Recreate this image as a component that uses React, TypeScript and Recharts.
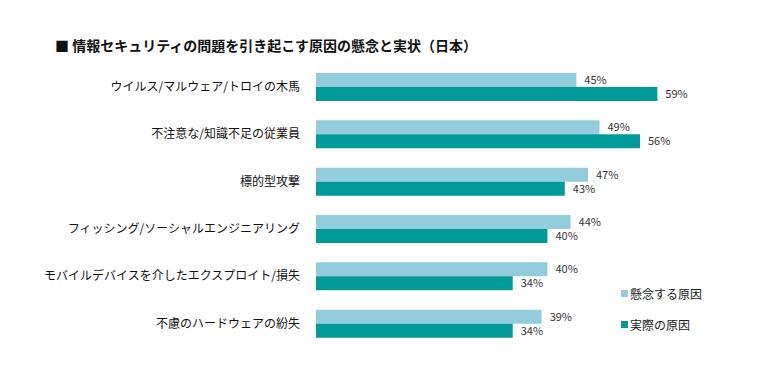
import { Bar, BarChart, LabelList, XAxis, YAxis } from "recharts";

const categories = [
  "ウイルス/マルウェア/トロイの木馬",
  "不注意な/知識不足の従業員",
  "標的型攻撃",
  "フィッシング/ソーシャルエンジニアリング",
  "モバイルデバイスを介したエクスプロイト/損失",
  "不慮のハードウェアの紛失",
];
const concernValues = [45, 49, 47, 44, 40, 39];
const actualValues = [59, 56, 43, 40, 34, 34];

const series = [
  { key: "concern", name: "懸念する原因", color: "#93cddd" },
  { key: "actual", name: "実際の原因", color: "#009a98" },
];

const data = categories.map((name, i) => ({
  name,
  concern: concernValues[i],
  actual: actualValues[i],
}));

const FONT = '"Noto Sans CJK JP", "Noto Sans", sans-serif';

export default function App() {
  return (
    <div
      style={{
        position: "absolute",
        left: 0,
        top: 0,
        width: 775,
        height: 366,
        background: "#fff",
        fontFamily: FONT,
      }}
    >
      <div
        style={{
          position: "absolute",
          left: 55,
          top: 35,
          fontSize: 14,
          fontWeight: 700,
          color: "#111",
          whiteSpace: "nowrap",
        }}
      >
        ■ 情報セキュリティの問題を引き起こす原因の懸念と実状（日本）
      </div>
      <BarChart
        width={775}
        height={366}
        data={data}
        layout="vertical"
        margin={{ top: 63, right: 54, bottom: 19, left: 0 }}
        barGap={0}
        barSize={14}
      >
        <XAxis type="number" domain={[0, 70]} hide />
        <YAxis
          type="category"
          dataKey="name"
          width={316}
          axisLine={false}
          tickLine={false}
          tickSize={0}
          tickMargin={16}
          interval={0}
          tick={{ fill: "#111", fontSize: 12, fontFamily: FONT }}
        />
        {series.map((s) => (
          <Bar
            key={s.key}
            dataKey={s.key}
            name={s.name}
            fill={s.color}
            isAnimationActive={false}
          >
            <LabelList
              dataKey={s.key}
              position="right"
              offset={8}
              formatter={(v: number) => `${v}%`}
              style={{ fill: "#333", fontSize: 11, fontFamily: FONT }}
            />
          </Bar>
        ))}
      </BarChart>
      <div
        style={{
          position: "absolute",
          left: 621,
          top: 278,
          fontSize: 12,
          color: "#222",
        }}
      >
        {series.map((s) => (
          <div
            key={s.key}
            style={{ display: "flex", alignItems: "center", height: 31 }}
          >
            <span
              style={{
                display: "inline-block",
                width: 7,
                height: 7,
                background: s.color,
                marginRight: 2,
              }}
            />
            {s.name}
          </div>
        ))}
      </div>
    </div>
  );
}
